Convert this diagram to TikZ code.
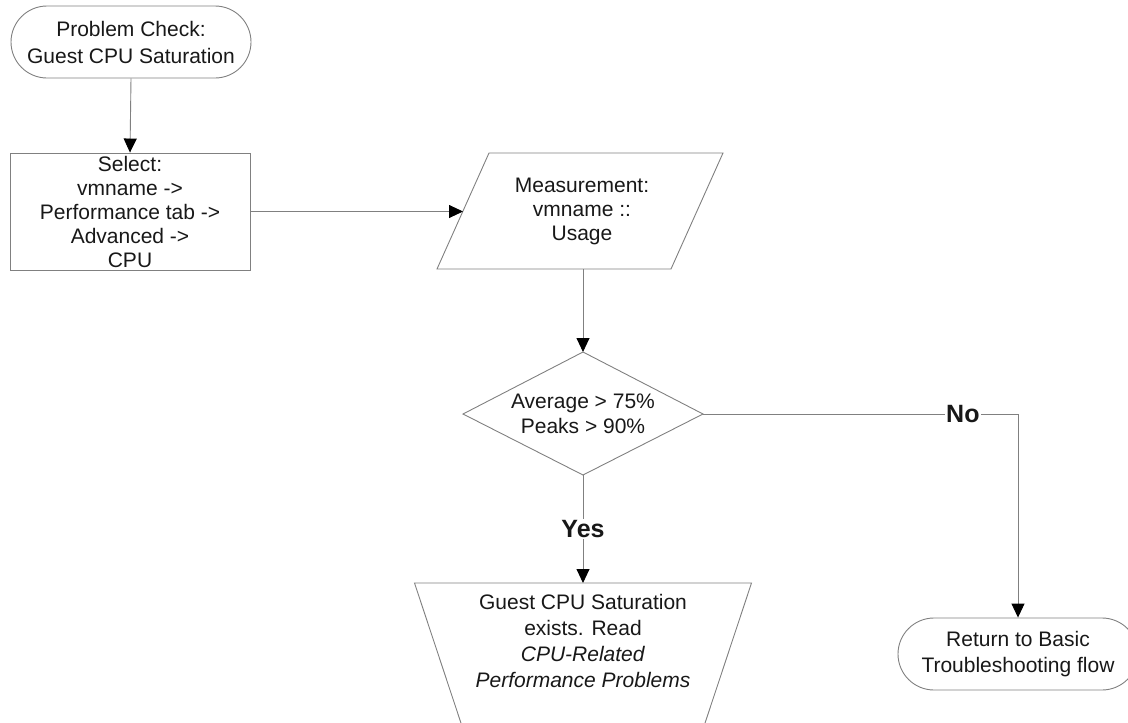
\documentclass[tikz,border=0pt]{standalone}
\usepackage{fontspec}
\setmainfont{Liberation Sans}
\usetikzlibrary{arrows.meta,shapes.misc}
\definecolor{edge}{RGB}{128,128,128}
\definecolor{ink}{RGB}{24,24,24}
\begin{document}
\begin{tikzpicture}[x=1pt,y=-1pt,
  outline/.style={draw=edge, line width=0.9pt},
  flow/.style={draw=edge, line width=0.9pt, -{Triangle[length=14pt,width=13pt,color=black]}},
  terminal/.style={outline, rounded rectangle, minimum width=240pt, minimum height=72pt, inner sep=0pt},
  txt/.style={text=ink, font=\fontsize{21}{24}\selectfont, align=center, inner sep=0pt},
  branch/.style={text=ink, font=\fontsize{25}{28}\selectfont\bfseries, fill=white, inner sep=1.5pt},
]
\useasboundingbox (0,0) rectangle (1128,723);
\clip (0,0) rectangle (1128,723);

% shapes
\node[terminal] (start) at (131,42) {};
\node[outline, rectangle, minimum width=240pt, minimum height=117pt, inner sep=0pt] (select) at (130,211.5) {};

% input/output parallelogram
\draw[outline] (437,269) -- (489,153) -- (723,153) -- (671,269) -- cycle;
\coordinate (meas-w) at (463,211.5);
\coordinate (meas-s) at (583,269);

% decision diamond
\draw[outline] (583,352) -- (703,414) -- (583,475) -- (463,414) -- cycle;
\coordinate (dec-n) at (583,352);
\coordinate (dec-e) at (703,414);
\coordinate (dec-s) at (583,475);

% manual operation trapezium (runs off the lower edge)
\draw[outline] (466.6,740) -- (414.5,583) -- (751.5,583) -- (699.4,740);
\coordinate (man-n) at (583,583);

\node[terminal] (end) at (1018,654) {};

% texts
\node[txt, font=\fontsize{21}{27}\selectfont] (start-text) at (131,42) {Problem Check:\\Guest CPU Saturation};
\node[txt] (select-text) at (130,212) {Select:\\vmname ->\\Performance tab ->\\Advanced ->\\CPU};
\node[txt] (meas-text) at (582,211) {Measurement:\\vmname ::\\Usage};
\node[txt, font=\fontsize{21}{25}\selectfont] (dec-text) at (583,414) {Average > 75\%\\Peaks > 90\%};
\node[txt, font=\fontsize{21}{25.7}\selectfont] (man-text) at (583,641) {Guest CPU Saturation\\exists. Read\\\textit{CPU-Related}\\\textit{Performance Problems}};
\node[txt, font=\fontsize{21}{26}\selectfont] (end-text) at (1018,654) {Return to Basic\\Troubleshooting flow};

% connectors
\draw[flow] (start.south) -- (select.north);
\draw[flow] (select.east) -- (meas-w);
\draw[flow] (meas-s) -- (dec-n);
\draw[flow] (dec-s) -- node[branch] (yes) {Yes} (man-n);
\draw[flow] (dec-e) -- node[branch, pos=0.825] (no) {No} (dec-e -| end.north) -- (end.north);
\end{tikzpicture}
\end{document}
